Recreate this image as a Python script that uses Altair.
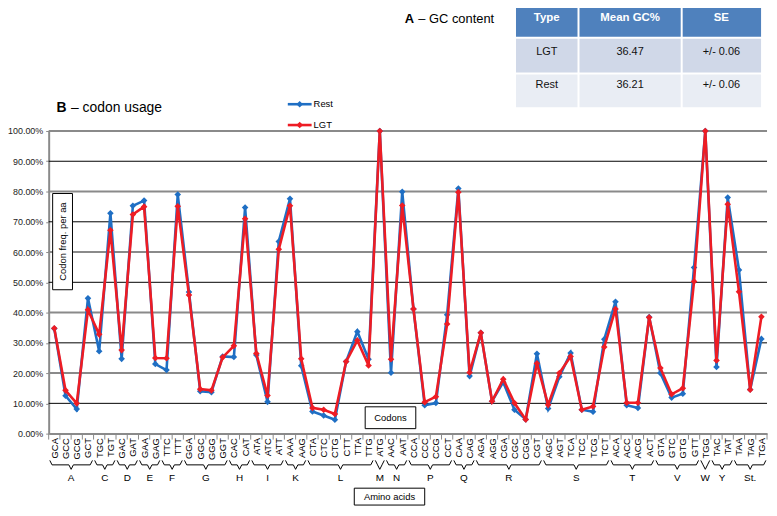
import altair as alt
import pandas as pd

# ---------------- data ----------------
codons = ["GCA", "GCC", "GCG", "GCT", "TGC", "TGT", "GAC", "GAT", "GAA", "GAG",
          "TTC", "TTT", "GGA", "GGC", "GGG", "GGT", "CAC", "CAT", "ATA", "ATC",
          "ATT", "AAA", "AAG", "CTA", "CTC", "CTG", "CTT", "TTA", "TTG", "ATG",
          "AAC", "AAT", "CCA", "CCC", "CCG", "CCT", "CAA", "CAG", "AGA", "AGG",
          "CGA", "CGC", "CGG", "CGT", "AGC", "AGT", "TCA", "TCC", "TCG", "TCT",
          "ACA", "ACC", "ACG", "ACT", "GTA", "GTC", "GTG", "GTT", "TGG", "TAC",
          "TAT", "TAA", "TAG", "TGA"]
aa_names = ["A", "C", "D", "E", "F", "G", "H", "I", "K", "L", "M", "N", "P", "Q",
            "R", "S", "T", "V", "W", "Y", "St."]
aa_counts = [4, 2, 2, 2, 2, 4, 2, 3, 2, 6, 1, 2, 4, 2, 6, 6, 4, 4, 1, 2, 3]

rest_pct = [34.7, 12.5, 8.1, 44.7, 27.2, 72.8, 24.7, 75.3, 77.0, 23.0,
            21.0, 79.0, 46.8, 14.0, 13.7, 25.5, 25.3, 74.7, 26.0, 10.5,
            63.5, 77.6, 22.4, 7.3, 6.0, 4.6, 23.8, 33.7, 24.6, 100.0,
            20.1, 79.9, 41.2, 9.4, 10.1, 39.3, 81.0, 19.0, 33.3, 10.7,
            17.0, 7.9, 4.7, 26.4, 8.3, 18.8, 26.6, 7.9, 7.2, 31.2,
            43.6, 9.4, 8.5, 38.5, 20.0, 11.9, 13.2, 54.9, 100.0, 22.0,
            78.0, 54.1, 14.6, 31.3]
lgt_pct = [34.8, 14.3, 10.0, 40.9, 32.8, 67.2, 27.6, 72.4, 75.0, 25.0,
           24.9, 75.1, 45.8, 14.7, 14.3, 25.2, 29.0, 71.0, 26.5, 12.6,
           60.9, 75.3, 24.7, 8.5, 7.9, 6.5, 23.8, 30.8, 22.5, 100.0,
           24.6, 75.4, 41.2, 10.4, 12.2, 36.2, 79.8, 20.2, 33.3, 10.7,
           18.0, 10.1, 4.7, 23.2, 9.5, 20.0, 25.5, 7.9, 9.0, 28.6,
           41.2, 10.2, 10.2, 38.4, 21.7, 13.0, 15.0, 50.3, 100.0, 24.2,
           75.8, 46.9, 14.5, 38.6]
series_names = ["Rest", "LGT"]

y_ticks = [0.0, 0.1, 0.2, 0.3, 0.4, 0.5, 0.6, 0.7, 0.8, 0.9, 1.0]

table_header = ["Type", "Mean GC%", "SE"]
table_rows = [["LGT", "36.47", "+/- 0.06"], ["Rest", "36.21", "+/- 0.06"]]

# ---------------- styles / layout ----------------
FONT = "Liberation Sans"
BLUE = "#1f6fc4"
RED = "#ee1c24"
GRAY = "#8a8a8a"
PAGE = 8                      # page margin
PLOT_LEFT, PLOT_TOP = 49, 130  # plot origin in page pixels
PLOT_RIGHT, PLOT_BOTTOM = 773, 435
W, H = PLOT_RIGHT - PLOT_LEFT, PLOT_BOTTOM - PLOT_TOP
TOTAL_H = 500
PAD_L, PAD_T = PLOT_LEFT - PAGE, PLOT_TOP - PAGE
PAD_R = 2
PAD_B = TOTAL_H - PAD_T - H
SMALL = 9.5


def px(X):
    """page x -> plot x"""
    return X - PLOT_LEFT


def py(Y):
    """page y -> plot y"""
    return Y - PLOT_TOP


n = len(codons)
rows = []
for k, c in enumerate(codons):
    rows.append({"i": k, "codon": c, "series": "Rest", "v": rest_pct[k] / 100})
    rows.append({"i": k, "codon": c, "series": "LGT", "v": lgt_pct[k] / 100})
long_df = pd.DataFrame(rows)

xscale = alt.Scale(domain=[-0.5, n - 0.5], nice=False, zero=False)
yscale = alt.Scale(domain=[0, 1], nice=False, zero=False)
label_expr = "[" + ",".join("'%s'" % c for c in codons) + "][datum.value]"

x_enc = alt.X("i:Q", scale=xscale,
              axis=alt.Axis(values=list(range(n)), labelExpr=label_expr, labelAngle=270,
                            labelOverlap=False, labelFlush=False, ticks=False, grid=False,
                            domainColor=GRAY, domainWidth=2, labelFont=FONT,
                            labelFontSize=SMALL, labelColor="black", labelPadding=4,
                            title=None))
y_enc = alt.Y("v:Q", scale=yscale,
              axis=alt.Axis(values=y_ticks, format=".2%", grid=False, tickSize=3,
                            tickColor=GRAY, tickWidth=1, domainColor=GRAY, domainWidth=2,
                            labelFont=FONT, labelFontSize=9, labelColor="#222",
                            labelPadding=3, title=None))

# gridlines (alternating gray / black)
grid_df = pd.DataFrame({"v": y_ticks[1:]})
grid_df["major"] = [round(v * 10) % 2 == 0 for v in grid_df["v"]]
grid_gray = alt.Chart(grid_df).transform_filter("datum.major").mark_rule(
    color=GRAY, strokeWidth=2).encode(y=y_enc)
grid_black = alt.Chart(grid_df).transform_filter("!datum.major").mark_rule(
    color="black", strokeWidth=1).encode(y=y_enc)

# category boundary ticks
bound_df = pd.DataFrame({"i": [k - 0.5 for k in range(n + 1)]})
bound_ticks = alt.Chart(bound_df).mark_rule(color=GRAY, strokeWidth=1).encode(
    x=x_enc, y=alt.value(H), y2=alt.value(H + 6))


# series lines and markers
def series_layers(name, color):
    base = alt.Chart(long_df).transform_filter(alt.datum.series == name)
    line = base.mark_line(color=color, strokeWidth=2.6).encode(x=x_enc, y=y_enc)
    pts = base.mark_point(shape="diamond", filled=True, size=44, color=color,
                          opacity=1).encode(x=x_enc, y=y_enc)
    return [line, pts]


# amino-acid brackets
def v_of(Y):
    return 1 - py(Y) / H


TIP, BAR, CEN = 462, 466.5, 471
INSET, CURL = 0.1, 0.2
br_rows, lab_rows = [], []
start = 0
for name, cnt in zip(aa_names, aa_counts):
    s = start - 0.5 + INSET
    e = start + cnt - 0.5 - INSET
    c = start - 0.5 + cnt / 2
    pts = [(s, TIP), (s + CURL, BAR), (c - CURL, BAR), (c, CEN), (c + CURL, BAR),
           (e - CURL, BAR), (e, TIP)]
    for q, (xx, yy) in enumerate(pts):
        br_rows.append({"aa": name, "seq": q, "i": xx, "v": v_of(yy)})
    lab_rows.append({"aa": name, "i": c})
    start += cnt
brackets = alt.Chart(pd.DataFrame(br_rows)).mark_line(
    color="black", strokeWidth=1).encode(x=x_enc, y=y_enc, detail="aa:N", order="seq:Q")
aa_labels = alt.Chart(pd.DataFrame(lab_rows)).mark_text(
    font=FONT, fontSize=10, color="black", baseline="middle").encode(
    x=x_enc, y=alt.value(py(480)), text="aa:N")

# ---------------- annotations (page coordinates) ----------------
one = alt.Data(values=[{"a": 1}])


def rect(x1, y1, x2, y2, fill, stroke=None):
    kw = dict(fill=fill)
    if stroke:
        kw.update(stroke=stroke, strokeWidth=1)
    return alt.Chart(one).mark_rect(**kw).encode(
        x=alt.value(px(x1)), x2=alt.value(px(x2)), y=alt.value(py(y1)), y2=alt.value(py(y2)))


def txt(x, y, s, size=SMALL, **kw):
    opts = dict(font=FONT, fontSize=size, baseline="middle", color="black")
    opts.update(kw)
    return alt.Chart(one).mark_text(text=s, **opts).encode(
        x=alt.value(px(x)), y=alt.value(py(y)))


ann = []
# titles
ann.append(txt(57, 107, "B", 14, fontWeight="bold", align="left"))
ann.append(txt(71.5, 107, "\u2013 codon usage", 14, align="left"))
ann.append(txt(408, 17, "A", 13, fontWeight="bold", align="left"))
ann.append(txt(421.5, 17, "\u2013 GC content", 13, align="left"))

# legend
leg_y = {"Rest": 103, "LGT": 124}
leg_col = {"Rest": BLUE, "LGT": RED}
for name in series_names:
    yy = leg_y[name]
    ann.append(alt.Chart(one).mark_rule(color=leg_col[name], strokeWidth=2.6).encode(
        x=alt.value(px(290)), x2=alt.value(px(314)), y=alt.value(py(yy))))
    ann.append(alt.Chart(one).mark_point(shape="diamond", filled=True, size=44,
                                         color=leg_col[name], opacity=1).encode(
        x=alt.value(px(302)), y=alt.value(py(yy))))
    ann.append(txt(316, yy, name, SMALL, align="left"))

# table
col_x = [(520, 582), (584, 686), (688, 767)]
col_c = [551, 635, 727]
row_y = [(3, 35), (37, 71), (73, 106)]
row_c = [16, 50, 84]
row_fill = ["#4f81bd", "#d0d8e8", "#e9edf4"]
for r in range(3):
    for ci in range(3):
        ann.append(rect(col_x[ci][0], row_y[r][0], col_x[ci][1], row_y[r][1], row_fill[r]))
for ci, h in enumerate(table_header):
    ann.append(txt(col_c[ci], row_c[0], h, 11.5, fontWeight="bold", color="white",
                   align="center"))
for r, row in enumerate(table_rows):
    for ci, val in enumerate(row):
        ann.append(txt(col_c[ci], row_c[r + 1], val, 11, color="#111", align="center"))

# boxed axis captions
ann.append(rect(53, 193, 73, 290, "white", "black"))
ann.append(txt(63, 241.5, "Codon freq. per aa", SMALL, angle=270, align="center"))
ann.append(rect(368, 408, 419, 430, "white", "black"))
ann.append(txt(393.5, 419, "Codons", SMALL, align="center"))
ann.append(rect(357, 490, 428, 507, "white", "black"))
ann.append(txt(392.5, 498.5, "Amino acids", SMALL, align="center"))

layers = ([grid_gray, grid_black, bound_ticks]
          + series_layers("Rest", BLUE) + series_layers("LGT", RED)
          + [brackets, aa_labels] + ann)

chart = alt.layer(*layers).properties(
    width=W, height=H,
    padding={"left": PAD_L, "top": PAD_T, "right": PAD_R, "bottom": PAD_B},
    autosize=alt.AutoSizeParams(type="none"),
).configure_view(stroke=None)

chart.save("out.html", embed_options={"renderer": "svg", "actions": False})
